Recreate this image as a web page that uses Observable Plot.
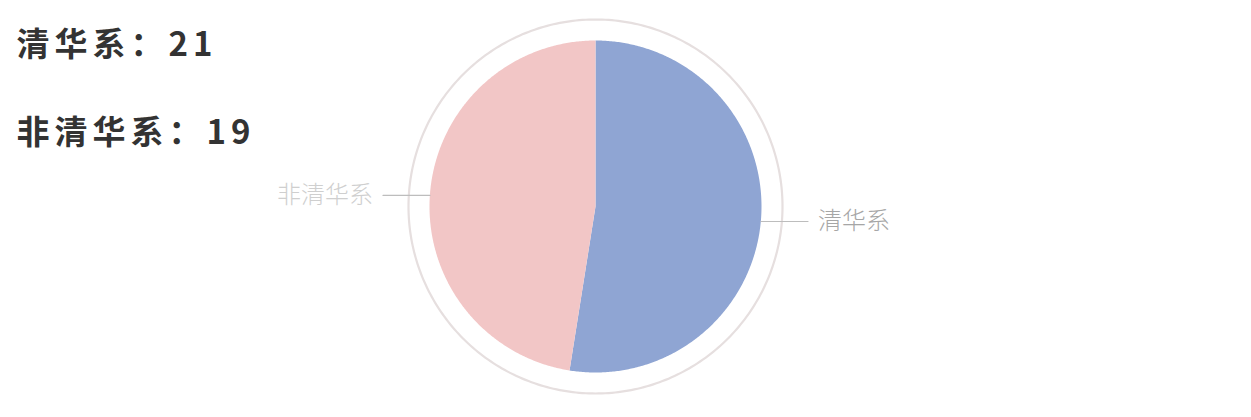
<!DOCTYPE html>
<html>
<head>
<meta charset="utf-8">
<script src="https://cdn.jsdelivr.net/npm/d3@7"></script>
<script src="https://cdn.jsdelivr.net/npm/@observablehq/plot@0.6"></script>
<style>
  html, body { margin: 0; padding: 0; background: #ffffff; }
  #chart { width: 1251px; height: 417px; overflow: hidden; }
</style>
</head>
<body>
<div id="chart"></div>
<script>
// ---- data ----
const categories = ["清华系", "非清华系"];
const counts = [21, 19];
const sliceColors = ["#8fa5d3", "#f2c6c6"];
const summaryLabels = ["清华系：21", "非清华系：19"];

// ---- build pie geometry from data (unit radius, y up) ----
const W = 1251, H = 417;
const R = 166;            // pie radius in px
const cx = 595, cy = 206; // pie centre in px
const pie = d3.pie().sort(null).value(d => d.value);
const arcs = pie(categories.map((c, i) => ({ name: c, value: counts[i], color: sliceColors[i] })));

const slicePts = [];
arcs.forEach((a, k) => {
  const n = Math.max(2, Math.ceil((a.endAngle - a.startAngle) / (Math.PI / 360)));
  slicePts.push({ id: k, x: 0, y: 0, color: a.data.color });
  for (let j = 0; j <= n; j++) {
    const t = a.startAngle + (a.endAngle - a.startAngle) * j / n;
    slicePts.push({ id: k, x: Math.sin(t), y: Math.cos(t), color: a.data.color });
  }
  slicePts.push({ id: k, x: 0, y: 0, color: a.data.color });
});

const ringR = 187 / R;
const ringPts = d3.range(0, 361).map(d => ({ x: ringR * Math.sin(d * Math.PI / 180), y: ringR * Math.cos(d * Math.PI / 180) }));

// leader lines & labels at each slice's mid angle, drawn horizontally outward
const leader = [];
const labels = [];
arcs.forEach((a, k) => {
  const m = (a.startAngle + a.endAngle) / 2;
  const side = Math.sin(m) >= 0 ? 1 : -1;
  const x0 = Math.sin(m), y0 = Math.cos(m) - 0.012;
  const x1 = x0 + side * 47 / R;
  leader.push({ id: k, x: x0, y: y0 }, { id: k, x: x1, y: y0 });
  labels.push({ x: x1 + side * 10 / R, y: y0, text: a.data.name, anchor: side > 0 ? "start" : "end" });
});

const xDomain = [-cx / R, (W - cx) / R];
const yDomain = [-(H - cy) / R, cy / R];

const plot = Plot.plot({
  width: W,
  height: H,
  margin: 0,
  x: { domain: xDomain, axis: null },
  y: { domain: yDomain, axis: null },
  style: { background: "#ffffff", fontFamily: "'Noto Sans CJK SC', sans-serif" },
  marks: [
    Plot.line(ringPts, { x: "x", y: "y", stroke: "#e6dfdf", strokeWidth: 2.2, curve: "linear" }),
    Plot.line(slicePts, { x: "x", y: "y", z: "id", fill: "color", stroke: "none" }),
    Plot.line(leader, { x: "x", y: "y", z: "id", stroke: "#bdbdbd", strokeWidth: 1.2 }),
    Plot.text(labels.filter(d => d.anchor === "start"), { x: "x", y: "y", text: "text", textAnchor: "start", fill: "#a6a6a6", fontSize: 24, fontWeight: 300 }),
    Plot.text(labels.filter(d => d.anchor === "end"), { x: "x", y: "y", text: "text", textAnchor: "end", fill: "#cfcfcf", fontSize: 24, fontWeight: 300 }),
    Plot.text([summaryLabels[0]], {
      frameAnchor: "top-left", text: d => d, dx: 16, dy: 45,
      fill: "#333333", fontSize: 33, fontWeight: "bold", textAnchor: "start", lineAnchor: "middle"
    }),
    Plot.text([summaryLabels[1]], {
      frameAnchor: "top-left", text: d => d, dx: 16, dy: 133,
      fill: "#333333", fontSize: 33, fontWeight: "bold", textAnchor: "start", lineAnchor: "middle"
    })
  ]
});
document.getElementById("chart").appendChild(plot);
plot.querySelectorAll("text").forEach(t => {
  if (summaryLabels.includes(t.textContent)) t.setAttribute("letter-spacing", "5");
});
</script>
</body>
</html>
